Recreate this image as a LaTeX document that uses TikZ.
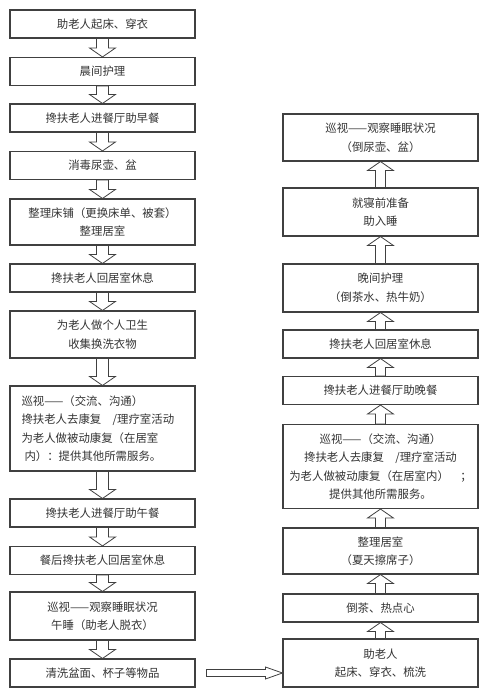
\documentclass[tikz,border=0pt]{standalone}
\usepackage{fontspec}
\setmainfont{Noto Sans CJK SC}
\usetikzlibrary{calc}

\begin{document}
\begin{tikzpicture}[
      x=1pt, y=-1pt,
      every node/.style={font=\fontsize{11.4}{18.5}\selectfont, text=black!80},
      leftbox/.style={rectangle,draw=black!75,line width=1.1pt,minimum width=185pt,minimum height=28pt,inner sep=0pt,align=center},
      rightbox/.style={leftbox,minimum width=195pt},
      downarr/.style={draw=black!75,line width=0.8pt,fill=white,
        to path={let \p1=(\tikztostart.south), \p2=(\tikztotarget.north) in
          (\x1-6pt,\y1) -- (\x1-6pt,\y2+9pt) -- (\x1-13pt,\y2+9pt) -- (\x1,\y2)
          -- (\x1+13pt,\y2+9pt) -- (\x1+6pt,\y2+9pt) -- (\x1+6pt,\y1) -- cycle}},
      uparr/.style={draw=black!75,line width=0.8pt,fill=white,
        to path={let \p1=(\tikztostart.north), \p2=(\tikztotarget.south) in
          (\x1-5pt,\y1) -- (\x1-5pt,\y2-9pt) -- (\x1-13pt,\y2-9pt) -- (\x1,\y2)
          -- (\x1+13pt,\y2-9pt) -- (\x1+5pt,\y2-9pt) -- (\x1+5pt,\y1) -- cycle}},
      rightarr/.style={draw=black!75,line width=0.8pt,fill=white,
        to path={let \p1=(\tikztostart.east), \p2=(\tikztotarget.west) in
          (\x1+11pt,\y1+3.5pt) -- (\x2-17pt,\y1+3.5pt) -- (\x2-17pt,\y1+6pt) -- (\x2,\y1)
          -- (\x2-17pt,\y1-6pt) -- (\x2-17pt,\y1-3.5pt) -- (\x1+11pt,\y1-3.5pt) -- cycle}}
  ]
  \useasboundingbox (0,0) rectangle (486,698);

  % ===================== 左列:上午 =====================
  \node[leftbox] (l1) at (102.5,24) {助老人起床、穿衣};
  \node[leftbox] (l2) at (102.5,71.5) {晨间护理};
  \node[leftbox] (l3) at (102.5,118) {搀扶老人进餐厅助早餐};
  \node[leftbox] (l4) at (102.5,165.5) {消毒尿壶、盆};
  \node[leftbox,minimum height=46pt] (l5) at (102.5,222) {整理床铺（更换床单、被套）\\整理居室};
  \node[leftbox] (l6) at (102.5,278) {搀扶老人回居室休息};
  \node[leftbox,minimum height=47pt] (l7) at (102.5,334.5) {为老人做个人卫生\\收集换洗衣物};
  \node[leftbox,minimum height=85pt,text width=162pt,align=left] (l8) at (102.5,428.5)
      {巡视——（交流、沟通）\\搀扶老人去康复\quad/理疗室活动\\为老人做被动康复（在居室\\\hspace{3pt}内）：提供其他所需服务。};
  \node[leftbox] (l9) at (102.5,513) {搀扶老人进餐厅助午餐};
  \node[leftbox] (l10) at (102.5,560.5) {餐后搀扶老人回居室休息};
  \node[leftbox,minimum height=48pt] (l11) at (102.5,616) {巡视——观察睡眠状况\\午睡（助老人脱衣）};
  \node[leftbox] (l12) at (102.5,673) {清洗盆面、杯子等物品};

  % ===================== 右列:下午到晚上 =====================
  \node[rightbox,minimum height=47pt] (r1) at (380.5,137.5) {巡视——观察睡眠状况\\（倒尿壶、盆）};
  \node[rightbox,minimum height=48pt] (r2) at (380.5,212) {就寝前准备\\助入睡};
  \node[rightbox,minimum height=48pt] (r3) at (380.5,288) {晚间护理\\（倒茶水、热牛奶）};
  \node[rightbox] (r4) at (380.5,344) {搀扶老人回居室休息};
  \node[rightbox] (r5) at (380.5,390.5) {搀扶老人进餐厅助晚餐};
  \node[rightbox,minimum height=84pt] (r6) at (380.5,466.5)
      {巡视——（交流、沟通）\\搀扶老人去康复\quad/理疗室活动\\为老人做被动康复（在居室内）\quad；\\提供其他所需服务。};
  \node[rightbox,minimum height=46pt] (r7) at (380.5,551) {整理居室\\（夏天擦席子）};
  \node[rightbox] (r8) at (380.5,608) {倒茶、热点心};
  \node[rightbox,minimum height=48pt] (r9) at (380.5,663) {助老人\\起床、穿衣、梳洗};

  % ===================== 空心箭头 =====================
  \foreach \a/\b in {l1/l2,l2/l3,l3/l4,l4/l5,l5/l6,l6/l7,l7/l8,l8/l9,l9/l10,l10/l11,l11/l12}
    \draw[downarr] (\a) to (\b);

  \foreach \a/\b in {r9/r8,r8/r7,r7/r6,r6/r5,r5/r4,r4/r3,r3/r2,r2/r1}
    \draw[uparr] (\a) to (\b);

  \draw[rightarr] (l12) to (r9);

\end{tikzpicture}
\end{document}
